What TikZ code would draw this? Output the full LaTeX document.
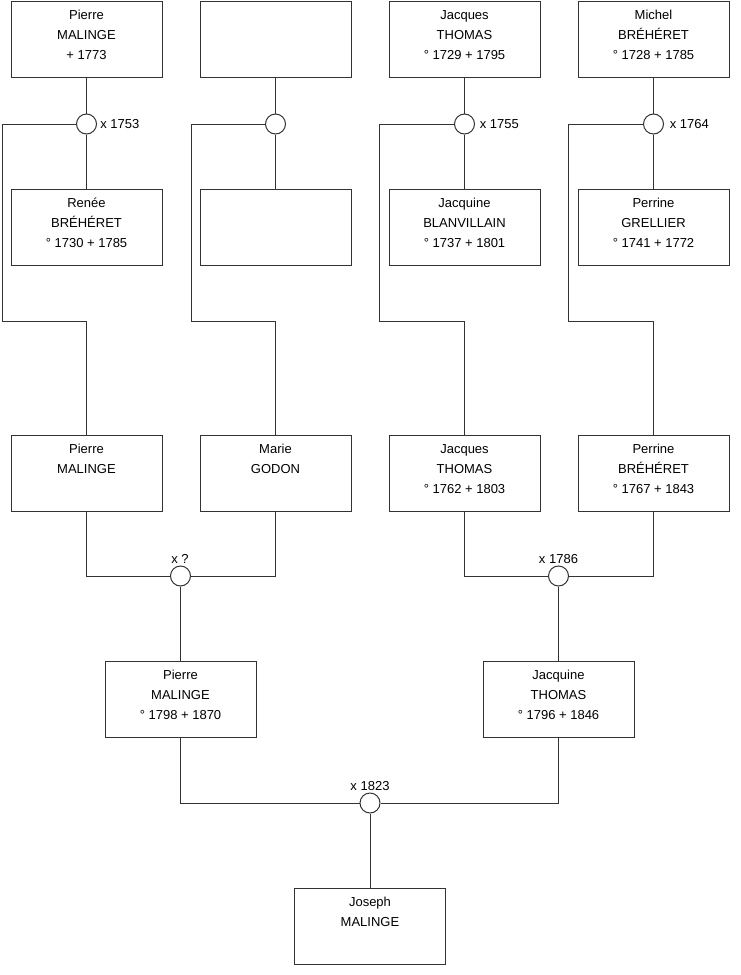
\documentclass[tikz,border=0pt]{standalone}
\usepackage{fontspec}
\setmainfont{Liberation Sans}
\definecolor{lc}{HTML}{333333}
\tikzset{
  pbox/.style={draw=lc, line width=0.75pt, minimum width=113.25pt, minimum height=57pt, inner sep=0pt},
  ptext/.style={anchor=base, inner sep=0pt, text=black, font=\fontsize{9.75}{12}\selectfont},
  wed/.style={circle, draw=lc, fill=white, line width=0.75pt, minimum size=15pt, inner sep=0pt},
  wlab/.style={inner sep=0pt, text=black, font=\fontsize{9.75}{12}\selectfont},
  conn/.style={draw=lc, line width=0.75pt},
}
% #1 name, #2 left x, #3 top y (px)
\newcommand\pboxframe[3]{\node[pbox] (#1) at ({#2+75.5},{#3+38}) {};}
\newcommand\pboxtwo[5]{\pboxframe{#1}{#2}{#3}%
  \node[ptext] (#1-a) at ({#2+75.5},{#3+18.8}) {#4};%
  \node[ptext] (#1-b) at ({#2+75.5},{#3+38.5}) {#5};}
\newcommand\pboxthree[6]{\pboxtwo{#1}{#2}{#3}{#4}{#5}%
  \node[ptext] (#1-c) at ({#2+75.5},{#3+58.2}) {#6};}
\begin{document}
\begin{tikzpicture}[x=0.75pt,y=-0.75pt]
\useasboundingbox (0,0) rectangle (740,975);
% row 1
\pboxthree{A1}{11}{1}{Pierre}{MALINGE}{+ 1773}
\pboxframe{A2}{200}{1}
\pboxthree{A3}{389}{1}{Jacques}{THOMAS}{° 1729 + 1795}
\pboxthree{A4}{578}{1}{Michel}{BRÉHÉRET}{° 1728 + 1785}
% row 2
\pboxthree{B1}{11}{189}{Renée}{BRÉHÉRET}{° 1730 + 1785}
\pboxframe{B2}{200}{189}
\pboxthree{B3}{389}{189}{Jacquine}{BLANVILLAIN}{° 1737 + 1801}
\pboxthree{B4}{578}{189}{Perrine}{GRELLIER}{° 1741 + 1772}
% row 3
\pboxtwo{C1}{11}{435}{Pierre}{MALINGE}
\pboxtwo{C2}{200}{435}{Marie}{GODON}
\pboxthree{C3}{389}{435}{Jacques}{THOMAS}{° 1762 + 1803}
\pboxthree{C4}{578}{435}{Perrine}{BRÉHÉRET}{° 1767 + 1843}
% row 4
\pboxthree{D1}{105}{661}{Pierre}{MALINGE}{° 1798 + 1870}
\pboxthree{D2}{483}{661}{Jacquine}{THOMAS}{° 1796 + 1846}
% row 5
\pboxtwo{E}{294.5}{888}{Joseph}{MALINGE}

% marriage circles
\node[wed] (m1) at (86.5,124) {};
\node[wed] (m2) at (275.5,124) {};
\node[wed] (m3) at (464.5,124) {};
\node[wed] (m4) at (653.5,124) {};
\node[wed] (m5) at (180.5,576) {};
\node[wed] (m6) at (558.5,576) {};
\node[wed] (m7) at (370,803) {};

% corner coordinates
\coordinate (k1a) at (2,124);   \coordinate (k1b) at (2,321.7);   \coordinate (k1c) at (86.5,321.7);
\coordinate (k2a) at (191,124); \coordinate (k2b) at (191,321.7); \coordinate (k2c) at (275.5,321.7);
\coordinate (k3a) at (379,124); \coordinate (k3b) at (379,321.7); \coordinate (k3c) at (464.5,321.7);
\coordinate (k4a) at (568.5,124); \coordinate (k4b) at (568.5,321.7); \coordinate (k4c) at (653.5,321.7);
\coordinate (k5a) at (86.5,576); \coordinate (k5b) at (275.5,576);
\coordinate (k6a) at (464.5,576); \coordinate (k6b) at (653.5,576);
\coordinate (k7a) at (180.5,803); \coordinate (k7b) at (558.5,803);

% connectors
\foreach \i in {1,2,3,4}{
  \draw[conn] (A\i.south) -- (m\i.north);
  \draw[conn] (m\i.south) -- (B\i.north);
  \draw[conn] (m\i.west) -- (k\i a) -- (k\i b) -- (k\i c) -- (C\i.north);
}
\draw[conn] (C1.south) -- (k5a) -- (m5.west);
\draw[conn] (C2.south) -- (k5b) -- (m5.east);
\draw[conn] (m5.south) -- (D1.north);
\draw[conn] (C3.south) -- (k6a) -- (m6.west);
\draw[conn] (C4.south) -- (k6b) -- (m6.east);
\draw[conn] (m6.south) -- (D2.north);
\draw[conn] (D1.south) -- (k7a) -- (m7.west);
\draw[conn] (D2.south) -- (k7b) -- (m7.east);
\draw[conn] (m7.south) -- (E.north);

% marriage labels
\node[wlab, anchor=base west] (l1) at (100,128.3) {x 1753};
\node[wlab, anchor=base west] (l3) at (479.5,128.3) {x 1755};
\node[wlab, anchor=base west] (l4) at (669.5,128.3) {x 1764};
\node[wlab, anchor=base] (l5) at (180,563) {x ?};
\node[wlab, anchor=base] (l6) at (558.5,563) {x 1786};
\node[wlab, anchor=base] (l7) at (370,790) {x 1823};
\end{tikzpicture}
\end{document}
